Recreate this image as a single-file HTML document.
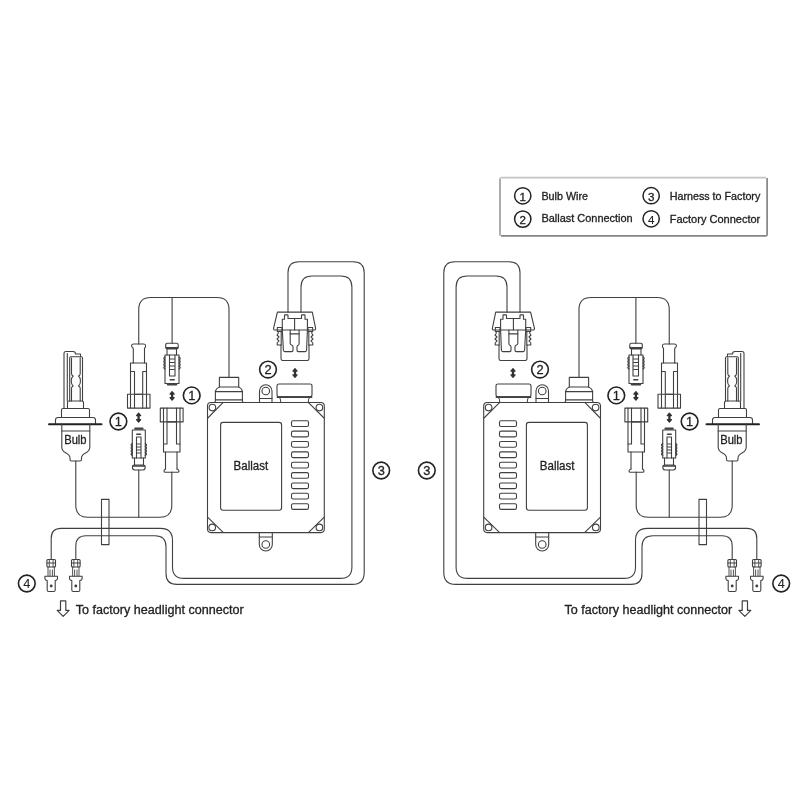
<!DOCTYPE html>
<html><head><meta charset="utf-8">
<style>
html,body{margin:0;padding:0;background:#fff;width:800px;height:800px;overflow:hidden}
svg{display:block;will-change:transform}
text{font-family:"Liberation Sans",sans-serif;fill:#222;stroke:#222;stroke-width:0.3}
</style></head>
<body>
<svg width="800" height="800" viewBox="0 0 800 800">
<defs>
<g id="half" fill="none" stroke="#404040" stroke-width="1.1" stroke-linejoin="round" stroke-linecap="round">
  <!-- ===== BULB ===== -->
  <path d="M64,408.5 V353.5 Q64,351.5 66,351.5 H73 Q75.5,351.5 75.5,354 H80.5 V356.7"/>
  <line x1="67.3" y1="353.5" x2="67.3" y2="401"/>
  <path d="M69.7,401 V358 Q69.7,356.7 71,356.7 H81.2 Q82.5,356.7 82.5,358 V401"/>
  <path d="M71.5,358 V373.5 Q71.5,375.5 73.2,376 C70.6,378 70.6,384 73.2,386 Q71.5,386.5 71.5,388.5 V401"/>
  <path d="M80.2,358 V373.5 Q80.2,375.5 78.5,376 C81.1,378 81.1,384 78.5,386 Q80.2,386.5 80.2,388.5 V401"/>
  <path d="M67.5,408.5 V402.5 Q67.5,401 69,401 H82 Q83.5,401 83.5,402.5 V408.5"/>
  <path d="M61.5,417.5 V410 Q61.5,408.5 63,408.5 H88 Q89.5,408.5 89.5,410 V417.5"/>
  <path d="M55.5,424 V420 Q55.5,417.5 58,417.5 H93 Q95.5,417.5 95.5,420 V424"/>
  <line x1="49" y1="424.3" x2="101.5" y2="424.3" stroke-width="2" stroke="#222"/>
  <path d="M61.8,424.3 V447 Q61.8,451 66,453 Q70,455 70,458 V459.5 Q70,461 71.5,461 H80 Q81.5,461 81.5,459.5 V458 Q81.5,455 85.5,453 Q89.8,451 89.8,447 V424.3"/>
  <line x1="61.8" y1="431" x2="89.8" y2="431"/>
  <!-- bulb wire -->
  <path d="M75.8,461 V505.3 Q75.8,517.3 87.8,517.3 H159.8 Q171.8,517.3 171.8,505.3 V472"/>
  <line x1="138.75" y1="470" x2="138.75" y2="517.3"/>

  <!-- ===== CONNECTOR A (male, left top) ===== -->
  <path d="M138.75,344 V309.5 Q138.75,297.5 150.75,297.5 H217 Q229,297.5 229,309.5 V377.4"/>
  <line x1="172.1" y1="297.5" x2="172.1" y2="343.3"/>
  <path d="M133.3,363 V348.2 Q131.6,347.5 131.6,346 Q131.6,344 133.6,344 H143.9 Q145.6,344 145.6,346 Q145.6,347.5 144.5,348.2 V363"/>
  <path d="M130.5,394.3 V363 H146.5 V394.3"/>
  <path d="M130.5,371.5 H134.5 V408 M146.5,371.5 H142.7 V408 M130.5,394.3 V408 M146.5,394.3 V408 M134.5,394.3 H142.7"/>
  <rect x="127.5" y="394.3" width="22.5" height="13.8"/>

  <!-- ===== CONNECTOR B (female, left bottom) ===== -->
  <line x1="135.3" y1="428.7" x2="142.5" y2="428.7" stroke-width="2.2"/>
  <rect x="132.3" y="430" width="13" height="28"/>
  <path d="M136.5,458 V437 H141 V458"/>
  <line x1="136.8" y1="434.2" x2="140.5" y2="434.2" stroke-width="1.6"/>
  <path d="M137,444 H140.5 M137,447 H140.5 M137,450 H140.5 M137,453 H140.5" stroke-width="1"/>
  <path d="M132.3,443.5 Q130,445 132.3,446.5 Q130,448 132.3,449.5 Q130,451 132.3,452.5 Q130,454 132.3,455.5 M145.3,443.5 Q147.6,445 145.3,446.5 Q147.6,448 145.3,449.5 Q147.6,451 145.3,452.5 Q147.6,454 145.3,455.5" stroke-width="1.3"/>
  <path d="M134.5,458 V465 M143.5,458 V465"/>
  <path d="M134,465 H143.6 Q145.2,465 145.2,467 Q145.2,470 143,470 H134.7 Q132.4,470 132.4,467 Q132.4,465 134,465 Z"/>
  <line x1="133" y1="466" x2="144.6" y2="466" stroke-width="1.6"/>

  <!-- ===== CONNECTOR C (female, right top) ===== -->
  <path d="M167.3,343.3 H176.9 Q178.3,343.3 178.3,345.5 Q178.3,349 176.3,349 H167.8 Q165.6,349 165.6,345.5 Q165.6,343.3 167.3,343.3 Z"/>
  <line x1="166.3" y1="348" x2="177.6" y2="348" stroke-width="1.8"/>
  <path d="M167,349 V355 M176.5,349 V355"/>
  <rect x="165" y="355" width="14" height="28.5"/>
  <path d="M169.5,355 V376 H175 V355"/>
  <path d="M170,359 H174.5 M170,362.5 H174.5 M170,366 H174.5 M170,369.5 H174.5" stroke-width="1"/>
  <line x1="170.3" y1="379.7" x2="174.2" y2="379.7" stroke-width="1.6"/>
  <line x1="167.8" y1="384.6" x2="176.3" y2="384.6" stroke-width="2"/>
  <path d="M165,357 Q162.7,358.5 165,360 Q162.7,361.5 165,363 Q162.7,364.5 165,366 Q162.7,367.5 165,369 M179,357 Q181.3,358.5 179,360 Q181.3,361.5 179,363 Q181.3,364.5 179,366 Q181.3,367.5 179,369" stroke-width="1.3"/>

  <!-- ===== CONNECTOR D (male, right bottom) ===== -->
  <rect x="160.3" y="408.1" width="22.8" height="13.8"/>
  <path d="M163.5,408.1 V452 H180 V408.1"/>
  <path d="M167,408.1 V444 H163.5 M176.5,408.1 V444 H180 M167,421.9 H176.5"/>
  <path d="M165.5,452 V469 M177,452 V469"/>
  <path d="M165.5,469 Q164,469.5 164,471 Q164,472.3 165.5,472.3 H177.5 Q179,472.3 179,471 Q179,469.5 177,469"/>

  <!-- arrows -->
  <path d="M138.6,415.0 V420.3" stroke-width="2.3" stroke="#333"/>
  <path d="M136.5,415.6 L138.6,413.1 L140.7,415.6 Z M136.5,419.7 L138.6,422.2 L140.7,419.7 Z" fill="#333" stroke="#333" stroke-width="1.2"/>
  <path d="M172.1,393.5 V398.3" stroke-width="2.3" stroke="#333"/>
  <path d="M170.0,394.1 L172.1,391.6 L174.2,394.1 Z M170.0,397.7 L172.1,400.2 L174.2,397.7 Z" fill="#333" stroke="#333" stroke-width="1.2"/>
  <path d="M295,370.5 V375.5" stroke-width="2.3" stroke="#333"/>
  <path d="M292.9,371.1 L295,368.6 L297.1,371.1 Z M292.9,374.9 L295,377.4 L297.1,374.9 Z" fill="#333" stroke="#333" stroke-width="1.2"/>

  <!-- ===== BALLAST CONNECTOR (wire entry) ===== -->
  <rect x="219.4" y="377.4" width="19.3" height="9.6"/>
  <path d="M219.4,387 Q216.5,388 215.4,391 V400.8 Q215.4,402.3 214.2,402.5 M238.7,387 Q241.5,388 242.4,391 V400.8 Q242.4,402.3 243.6,402.5"/>
  <line x1="215.4" y1="391.6" x2="242.4" y2="391.6" stroke-width="1.3"/>
  <line x1="215.4" y1="399.8" x2="242.4" y2="399.8" stroke-width="1.3"/>

  <!-- ===== BALLAST BODY ===== -->
  <path d="M211,402.5 H320.8 Q324.3,402.5 324.3,406 V529.1 Q324.3,532.6 320.8,532.6 H211 Q207.5,532.6 207.5,529.1 V406 Q207.5,402.5 211,402.5 Z"/>
  <path d="M207.8,418 L223,402.7 M308.5,402.7 L324,418 M207.8,517.3 L223.2,532.4 M308.6,532.4 L324,517.3"/>
  <circle cx="212.4" cy="407.6" r="3.3"/>
  <circle cx="319.4" cy="407.6" r="3.3"/>
  <circle cx="212.2" cy="527.4" r="3.3"/>
  <circle cx="319.4" cy="527.4" r="3.3"/>
  <rect x="220.6" y="422.4" width="61" height="87.8" rx="2.5"/>
  <rect x="291.5" y="420.8" width="17" height="5.7" rx="1.6"/>
  <rect x="291.5" y="431.16" width="17" height="5.7" rx="1.6"/>
  <rect x="291.5" y="441.52" width="17" height="5.7" rx="1.6"/>
  <rect x="291.5" y="451.88" width="17" height="5.7" rx="1.6"/>
  <rect x="291.5" y="462.24" width="17" height="5.7" rx="1.6"/>
  <rect x="291.5" y="472.6" width="17" height="5.7" rx="1.6"/>
  <rect x="291.5" y="482.96" width="17" height="5.7" rx="1.6"/>
  <rect x="291.5" y="493.32" width="17" height="5.7" rx="1.6"/>
  <rect x="291.5" y="503.68" width="17" height="5.7" rx="1.6"/>
  <!-- tabs -->
  <path d="M259.5,402.5 V391 A6.25,6.25 0 0 1 272,391 V402.5"/>
  <line x1="259.5" y1="398.5" x2="272" y2="398.5"/>
  <circle cx="265.75" cy="391" r="3.8"/>
  <path d="M259.3,532.6 V544.5 A6.5,6.5 0 0 0 272.3,544.5 V532.6"/>
  <line x1="259.3" y1="537" x2="272.3" y2="537"/>
  <circle cx="265.8" cy="544.5" r="3.8"/>

  <!-- ===== SOCKET 2 on ballast ===== -->
  <rect x="277" y="384" width="35" height="12.7" rx="2"/>
  <line x1="277.5" y1="397.2" x2="311.5" y2="397.2" stroke-width="1.8"/>
  <path d="M279.5,397.5 Q280.8,399 280.8,402.5 M309.5,397.5 Q308.2,399 308.2,402.5"/>

  <!-- ===== CONNECTOR 2 plug (top) ===== -->
  <path d="M277.4,312.1 H312.3 L315.6,328.2 Q315.9,330 314,330 H275.2 Q273.3,330 273.6,328.2 Z"/>
  <path d="M282.3,330 V319.2 H284.5 V315.3 Q284.5,314.9 285,314.9 H287.5 Q288,314.9 288,315.3 V318.5 H301.5 V315.3 Q301.5,314.9 302,314.9 H304.5 Q305,314.9 305,315.3 V319.2 H307.4 V330"/>
  <line x1="294.6" y1="318.5" x2="294.6" y2="330"/>
  <path d="M277.3,327.5 H282 V331.5 H277.3 Z M312.7,327.5 H308 V331.5 H312.7 Z" stroke-width="1.1"/>
  <path d="M278.2,331.5 V333.5 L277,335 L279,337 L277,339 L279,341 L277.2,343 V345 H281 M311.8,331.5 V333.5 L313,335 L311,337 L313,339 L311,341 L312.8,343 V345 H309" stroke-width="1.1"/>
  <path d="M281.2,331.5 V345 M308.8,331.5 V345" stroke-width="1.1"/>
  <path d="M282.3,330 L283.4,350.3 Q283.5,351.6 284.8,351.6 H291.8 Q293,351.6 293,350.3 V347 Q293,345.2 291.5,345 Q290.2,344.8 290.2,343.3 V330"/>
  <path d="M307.4,330 L306.6,350.3 Q306.5,351.6 305.2,351.6 H298.2 Q297,351.6 297,350.3 V347 Q297,345.2 298.5,345 Q299.1,344.8 299.1,343.3 V330"/>
  <line x1="290.2" y1="333.9" x2="299.1" y2="333.9"/>
  <path d="M281,345 V358.8 Q281,360.5 282.7,360.5 H307.3 Q309,360.5 309,358.8 V345"/>

  <!-- ===== HARNESS WIRES ===== -->
  <path d="M288,312.1 V272.7 Q288,261.7 299,261.7 H353.2 Q364.2,261.7 364.2,272.7 V572.4 Q364.2,584.4 352.2,584.4 H177 Q166,584.4 166,573.4 V546.7 Q166,535.7 155,535.7 H86 Q75.8,535.7 75.8,545.9 V559.5"/>
  <path d="M301,312.1 V287 Q301,276 312,276 H340.9 Q351.9,276 351.9,287 V566.9 Q351.9,578.4 340.4,578.4 H184 Q172.5,578.4 172.5,566.9 V540.4 Q172.5,528.4 160.5,528.4 H61.2 Q51.2,528.4 51.2,538.4 V559.5"/>
  <rect x="101.5" y="499.4" width="7.5" height="45.2"/>

  <!-- ===== FACTORY CONNECTORS ===== -->
  <g id="fc">
    <rect x="46.9" y="559.5" width="8.6" height="7.5" rx="1"/>
    <line x1="46.9" y1="563" x2="55.5" y2="563"/>
    <path d="M49.3,559.5 V567 M53.1,559.5 V567" stroke-width="0.9"/>
    <path d="M48,567 V576 M54.4,567 V576 M50,570 V576 M52.4,570 V576" stroke-width="0.9"/>
    <path d="M44.9,576.2 H57.5 V578.6 Q57.5,580.2 55.2,580.6 V590 Q55.2,591.5 53.7,591.5 H48.7 Q47.2,591.5 47.2,590 V580.6 Q44.9,580.2 44.9,578.6 Z"/>
    <circle cx="51.2" cy="586" r="0.9" fill="#3a3a3a"/>
  </g>
  <use href="#fc" x="24.6"/>

  <!-- ===== DOWN ARROW ===== -->
  <path d="M60.5,600.8 H65.8 V610.4 H69.1 L63.15,616.4 L57.2,610.4 H60.5 Z" stroke-width="1.2"/>

  <!-- ===== CIRCLES ===== -->
  <g stroke="#222" stroke-width="1.6">
    <circle cx="118.4" cy="421.5" r="8.35"/>
    <circle cx="191.7" cy="395.4" r="8.35"/>
    <circle cx="268" cy="369.55" r="8.35"/>
    <circle cx="381.2" cy="470.5" r="8.35"/>
    <circle cx="26.8" cy="583.5" r="8.35"/>
  </g>
</g>
</defs>

<rect width="800" height="800" fill="#fff"/>
<use href="#half"/>
<use href="#half" transform="matrix(-1 0 0 1 808 0)"/>

<!-- ===== LEGEND ===== -->
<g fill="none" stroke-width="1.7">
<path d="M500,235.9 V179 Q500,177.6 501.4,177.6 H766" stroke="#c4c4c4"/>
<path d="M500,179 V235" stroke="#a8a8a8"/>
<path d="M501,235.9 H765.6 Q767.1,235.9 767.1,234.4 V178" stroke="#858585"/>
</g>
<g fill="none" stroke="#222" stroke-width="1.5">
  <circle cx="522.75" cy="195.8" r="8.15"/>
  <circle cx="522.75" cy="219.1" r="8.15"/>
  <circle cx="651.15" cy="195.7" r="8.15"/>
  <circle cx="651.15" cy="218.8" r="8.15"/>
</g>
<g font-size="10.5">
  <text x="541.4" y="199.8" textLength="46.6" lengthAdjust="spacingAndGlyphs">Bulb Wire</text>
  <text x="541.4" y="222.3" textLength="91.3" lengthAdjust="spacingAndGlyphs">Ballast Connection</text>
  <text x="669.7" y="200.2" textLength="90.6" lengthAdjust="spacingAndGlyphs">Harness to Factory</text>
  <text x="669.7" y="223.1" textLength="90.6" lengthAdjust="spacingAndGlyphs">Factory Connector</text>
</g>
<g font-size="11.6" text-anchor="middle">
  <text x="522.75" y="200.8">1</text>
  <text x="522.75" y="224.1">2</text>
  <text x="651.15" y="200.8">3</text>
  <text x="651.15" y="223.9" style="stroke-width:0.1">4</text>
</g>

<!-- ===== LABELS ===== -->
<g font-size="12.5">
  <text x="64.2" y="444.4" textLength="22.4" lengthAdjust="spacingAndGlyphs" font-size="13">Bulb</text>
  <text x="720.2" y="444.4" textLength="22.4" lengthAdjust="spacingAndGlyphs" font-size="13">Bulb</text>
  <text x="233.6" y="470.2" textLength="34.6" lengthAdjust="spacingAndGlyphs">Ballast</text>
  <text x="539.8" y="470.2" textLength="34.6" lengthAdjust="spacingAndGlyphs">Ballast</text>
</g>
<g font-size="12" style="stroke-width:0.15">
  <text x="75.8" y="613.8" textLength="167.9" lengthAdjust="spacingAndGlyphs">To factory headlight connector</text>
  <text x="564.5" y="613.8" textLength="167.6" lengthAdjust="spacingAndGlyphs">To factory headlight connector</text>
</g>
<g font-size="12.8" text-anchor="middle" stroke="#222" stroke-width="0.35">
  <text x="118.4" y="426.1">1</text>
  <text x="191.7" y="400">1</text>
  <text x="268" y="374.15">2</text>
  <text x="381.2" y="475.1">3</text>
  <text x="26.8" y="588.1" style="stroke-width:0.05">4</text>
  <text x="689.6" y="426.1">1</text>
  <text x="616.3" y="400">1</text>
  <text x="540" y="374.15">2</text>
  <text x="426.8" y="475.1">3</text>
  <text x="781.4" y="588.1" style="stroke-width:0.05">4</text>
</g>
</svg>
</body></html>
